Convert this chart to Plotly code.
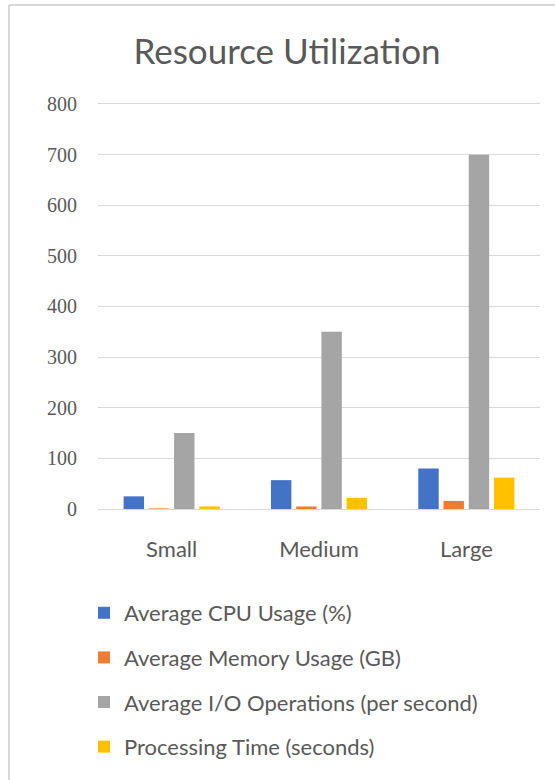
import plotly.graph_objects as go

# Workload sizes and measured resource figures
categories = ["Small", "Medium", "Large"]
series_names = [
    "Average CPU Usage (%)",
    "Average Memory Usage (GB)",
    "Average I/O Operations (per second)",
    "Processing Time (seconds)",
]
cpu_usage = [25, 57, 80]
memory_usage = [1, 5, 16]
io_operations = [150, 350, 700]
processing_time = [5, 22, 62]
y_ticks = [0, 100, 200, 300, 400, 500, 600, 700, 800]

series_values = [cpu_usage, memory_usage, io_operations, processing_time]
series_colors = ["#4472C4", "#ED7D31", "#A5A5A5", "#FFC000"]

W, H = 555, 780
TEXT = "#595959"
GRID = "#D9D9D9"
SANS = "Lato, 'Open Sans', sans-serif"
SERIF = "'Liberation Serif', 'DejaVu Serif', serif"

Y_MAX = 805  # a little headroom so the 800 gridline is drawn

fig = go.Figure()
for i, (name, vals, col) in enumerate(zip(series_names, series_values, series_colors)):
    fig.add_trace(go.Bar(
        x=categories, y=vals, name=name,
        marker=dict(color=col, line=dict(width=0)),
        legendgroup=f"g{i}",
    ))

# plot area placement in pixels (800 sits at y=104, 0 at y=509)
px_left, px_right = 98, 540
px_bottom = 509
px_top = px_bottom - Y_MAX * (509 - 104) / 800

fig.update_layout(
    width=W, height=H,
    margin=dict(l=0, r=0, t=0, b=0, autoexpand=False),
    paper_bgcolor="white", plot_bgcolor="white",
    barmode="group", bargap=0.315, bargroupgap=0.19,
    title=dict(
        text="Resource Utilization",
        x=287 / W, xanchor="center", xref="paper",
        y=1 - 52 / H, yanchor="middle", yref="container",
        font=dict(family=SANS, size=35, color=TEXT),
    ),
    xaxis=dict(
        domain=[px_left / W, px_right / W],
        type="category",
        showgrid=False, zeroline=False,
        showline=True, linecolor=GRID, linewidth=1,
        ticks="", ticklabelstandoff=21,
        tickfont=dict(family=SANS, size=22, color=TEXT),
    ),
    yaxis=dict(
        domain=[1 - px_bottom / H, 1 - px_top / H],
        range=[0, Y_MAX], tickvals=y_ticks,
        showgrid=True, gridcolor=GRID, gridwidth=1,
        zeroline=False, showline=False,
        ticks="", ticklabelstandoff=20,
        tickfont=dict(family=SERIF, size=20, color=TEXT),
    ),
    legend=dict(
        x=84 / W, xanchor="left",
        y=1 - 592 / H, yanchor="top",
        tracegroupgap=13,
        font=dict(family=SANS, size=22, color=TEXT),
        bgcolor="rgba(0,0,0,0)",
    ),
    showlegend=True,
    shapes=[
        dict(type="line", xref="paper", yref="paper",
             x0=9 / W, x1=1.0, y0=1 - 5 / H, y1=1 - 5 / H,
             line=dict(color=GRID, width=2)),
        dict(type="line", xref="paper", yref="paper",
             x0=9 / W, x1=9 / W, y0=1 - 5 / H, y1=0,
             line=dict(color=GRID, width=2)),
    ],
)

fig.write_html("out.html")
